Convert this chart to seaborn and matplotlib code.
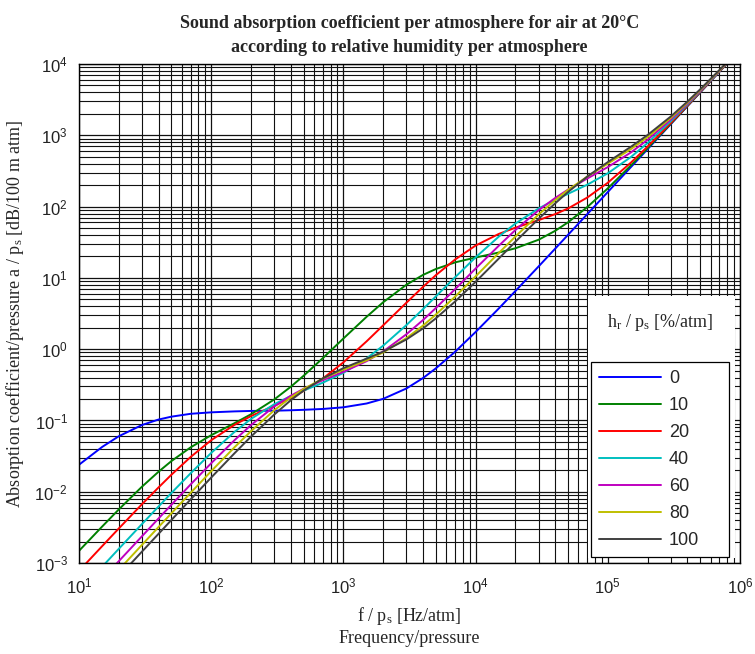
import matplotlib
matplotlib.use("Agg")
import pandas as pd
import seaborn as sns
import matplotlib.pyplot as plt
from matplotlib.patches import Rectangle

# frequency / pressure [Hz/atm]
freq = [10, 15, 20, 30, 40, 50, 70,
        100, 150, 200, 300, 400, 500, 700,
        1e3, 1.5e3, 2e3, 3e3, 4e3, 5e3, 7e3,
        1e4, 1.5e4, 2e4, 3e4, 4e4, 5e4, 7e4,
        1e5, 1.5e5, 2e5, 3e5, 4e5, 5e5, 7e5, 8e5]

# absorption / pressure [dB/100 m atm], one list per relative humidity
a_rh0 = [0.0239, 0.0426, 0.0600, 0.0864, 0.103, 0.113, 0.124,
         0.130, 0.134, 0.136, 0.137, 0.139, 0.141, 0.145,
         0.153, 0.173, 0.201, 0.281, 0.393, 0.537, 0.920,
         1.74, 3.73, 6.53, 14.5, 25.7, 40.1, 78.4,
         160, 360, 639, 1438, 2557, 3995, 7830, 10230]
a_rh10 = [0.00148, 0.00326, 0.00564, 0.0118, 0.0191, 0.0269, 0.0420,
          0.0621, 0.0915, 0.122, 0.197, 0.297, 0.423, 0.750,
          1.41, 2.85, 4.55, 8.02, 11.0, 13.3, 16.5,
          19.3, 22.7, 26.0, 34.3, 45.7, 60.1, 98.5,
          180, 380, 659, 1458, 2577, 4015, 7850, 10250]
a_rh20 = [0.000774, 0.00173, 0.00305, 0.00670, 0.0115, 0.0173, 0.0308,
          0.0528, 0.0867, 0.115, 0.161, 0.207, 0.259, 0.388,
          0.653, 1.29, 2.16, 4.49, 7.47, 10.9, 18.1,
          28.4, 41.4, 50.6, 64.6, 78.4, 94.0, 134,
          216, 416, 695, 1494, 2613, 4051, 7886, 10283]
a_rh40 = [0.000396, 0.000889, 0.00158, 0.00353, 0.00621, 0.00959, 0.0182,
          0.0350, 0.0690, 0.105, 0.169, 0.220, 0.262, 0.339,
          0.465, 0.743, 1.12, 2.18, 3.64, 5.48, 10.2,
          19.4, 38.0, 57.8, 94.2, 124.5, 151, 203,
          293, 498, 780, 1580, 2699, 4138, 7973, 10370]
a_rh60 = [0.000266, 0.000599, 0.00106, 0.00238, 0.00422, 0.00656, 0.0127,
          0.0251, 0.0528, 0.0861, 0.157, 0.222, 0.278, 0.368,
          0.480, 0.679, 0.928, 1.62, 2.56, 3.77, 6.94,
          13.5, 28.3, 46.9, 89.2, 132, 173, 248,
          358, 577, 865, 1670, 2790, 4230, 8066, 10462]
a_rh80 = [0.000201, 0.000452, 0.000802, 0.00180, 0.00320, 0.00498, 0.00968,
          0.0194, 0.0420, 0.0707, 0.139, 0.210, 0.276, 0.387,
          0.515, 0.698, 0.900, 1.43, 2.14, 3.05, 5.46,
          10.5, 22.4, 38.0, 77.6, 123, 171, 264,
          400, 643, 942, 1757, 2881, 4323, 8160, 10558]
a_rh100 = [0.000161, 0.000363, 0.000645, 0.00145, 0.00257, 0.00401, 0.00782,
           0.0158, 0.0346, 0.0593, 0.121, 0.192, 0.262, 0.390,
           0.542, 0.737, 0.922, 1.37, 1.95, 2.70, 4.66,
           8.79, 18.7, 32.1, 67.5, 111, 160, 264,
           421, 693, 1009, 1839, 2970, 4413, 8254, 10652]

humidity = ["0", "10", "20", "40", "60", "80", "100"]
series = [a_rh0, a_rh10, a_rh20, a_rh40, a_rh60, a_rh80, a_rh100]
colors = [(0, 0, 1), (0, 0.5, 0), (1, 0, 0), (0, 0.75, 0.75),
          (0.75, 0, 0.75), (0.75, 0.75, 0), (0.25, 0.25, 0.25)]

sns.set_theme(style="white")
plt.rcParams['font.family'] = ['Liberation Sans', 'DejaVu Sans']
plt.rcParams['mathtext.default'] = 'regular'
serif = ['Liberation Serif', 'DejaVu Serif']

fig, ax = plt.subplots(figsize=(7.55, 6.54), dpi=100)
fig.subplots_adjust(left=0.1046, right=0.9801, bottom=0.1391, top=0.9021)

for hr, vals, c in zip(humidity, series, colors):
    df = pd.DataFrame({"f": freq, "a": vals})
    sns.lineplot(data=df, x="f", y="a", color=c, lw=1.4, label=hr, ax=ax)

ax.set_xscale("log")
ax.set_yscale("log")
ax.set_xlim(10, 1e6)
ax.set_ylim(1e-3, 1e4)

ax.set_axisbelow(True)
ax.grid(True, which="major", color="#111111", lw=0.9)
ax.grid(True, which="minor", color="#111111", lw=0.8)
for s in ax.spines.values():
    s.set_color("black")
    s.set_linewidth(1.0)
ax.tick_params(which="both", length=0, labelsize=12, colors="#222222")
ax.tick_params(axis="x", pad=10)
ax.tick_params(axis="y", pad=8)

ax.set_title("Sound absorption coefficient per atmosphere for air at 20°C\n"
             "according to relative humidity per atmosphere",
             fontsize=13, fontweight="bold", family=serif, pad=9, linespacing=1.5)
ax.set_xlabel("f / p$_\\mathregular{s}$ [Hz/atm]\nFrequency/pressure",
              fontsize=13, family=serif, labelpad=6, linespacing=1.25)
ax.set_ylabel("Absorption coefficient/pressure a / p$_\\mathregular{s}$ [dB/100 m atm]",
              fontsize=13, family=serif, labelpad=6)

# white area behind the legend and its title
ax.add_patch(Rectangle((0.770, 0.010), 0.222, 0.525, transform=ax.transAxes,
                       facecolor="white", edgecolor="none", zorder=3))
ax.text(0.880, 0.483, "h$_\\mathregular{r}$ / p$_\\mathregular{s}$ [%/atm]",
        transform=ax.transAxes, ha="center", va="center",
        fontsize=13, family=serif, zorder=4)

leg = ax.legend(loc="lower left", bbox_to_anchor=(0.775, 0.012, 0.209, 0.431),
                mode="expand", fancybox=False, framealpha=1, edgecolor="black",
                fontsize=13, handlelength=3.4, handletextpad=0.45,
                labelspacing=0.55, borderpad=0.45, borderaxespad=0)
leg.get_frame().set_linewidth(0.9)
leg.set_zorder(5)

plt.savefig("out.png", dpi=100)
